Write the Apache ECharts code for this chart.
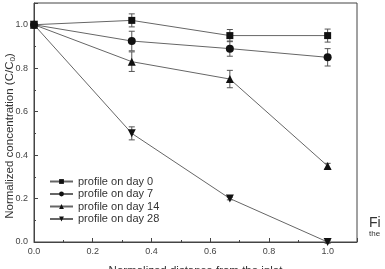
<!DOCTYPE html>
<html>
<head>
<meta charset="utf-8">
<script src="https://cdn.jsdelivr.net/npm/echarts@6/dist/echarts.min.js"></script>
<style>
  html, body { margin: 0; padding: 0; background: #fff; }
  #main { width: 385px; height: 269px; }
</style>
</head>
<body>
<div id="main"></div>
<script>
// positions along the column (normalized distance)
const distances = [0, 0.333, 0.667, 1.0];

// normalized concentration C/C0 for each sampling day
const day0 = [1.0, 1.02, 0.95, 0.95];
const day7 = [1.0, 0.925, 0.89, 0.85];
const day14 = [1.0, 0.83, 0.75, 0.35];
const day28 = [1.0, 0.5, 0.2, 0.0];

// error bar half heights
const err0 = [0, 0.03, 0.028, 0.03];
const err7 = [0, 0.045, 0.035, 0.04];
const err14 = [0, 0.045, 0.04, 0.012];
const err28 = [0, 0.03, 0.006, 0.006];

const seriesNames = ['profile on day 0', 'profile on day 7', 'profile on day 14', 'profile on day 28'];
const symbols = ['rect', 'circle', 'triangle', 'triangle'];
const symbolSizes = [7, 8, 8, 8];
const symbolRotates = [0, 0, 0, 180];

const allValues = [day0, day7, day14, day28];
const allErrors = [err0, err7, err14, err28];

const FONT = 'Liberation Sans';

var myChart = echarts.init(document.getElementById('main'));

const tickFmt = function (v) {
    if (v > 1.05) return '';
    return v.toFixed(1);
};

// error bars drawn with a custom series
function errorSeries(vals, errs) {
    const d = [];
    for (let i = 0; i < vals.length; i++) {
        if (errs[i] > 0) d.push([distances[i], vals[i] - errs[i], vals[i] + errs[i]]);
    }
    return {
        type: 'custom',
        silent: true,
        data: d,
        z: 1,
        renderItem: function (params, api) {
            const lo = api.coord([api.value(0), api.value(1)]);
            const hi = api.coord([api.value(0), api.value(2)]);
            const w = 3;
            const st = { stroke: '#555', lineWidth: 1 };
            return {
                type: 'group',
                children: [
                    { type: 'line', shape: { x1: lo[0], y1: lo[1], x2: hi[0], y2: hi[1] }, style: st },
                    { type: 'line', shape: { x1: lo[0] - w, y1: lo[1], x2: lo[0] + w, y2: lo[1] }, style: st },
                    { type: 'line', shape: { x1: hi[0] - w, y1: hi[1], x2: hi[0] + w, y2: hi[1] }, style: st }
                ]
            };
        }
    };
}

const series = [];
for (let k = 0; k < 4; k++) {
    series.push({
        name: seriesNames[k],
        type: 'line',
        data: distances.map((x, i) => [x, allValues[k][i]]),
        symbol: symbols[k],
        symbolSize: symbolSizes[k],
        symbolRotate: symbolRotates[k],
        showAllSymbol: true,
        clip: false,
        z: 3,
        lineStyle: { color: '#666', width: 1 },
        itemStyle: { color: '#111' }
    });
    series.push(errorSeries(allValues[k], allErrors[k]));
}

var option = {
    animation: false,
    textStyle: { fontFamily: FONT },
    grid: {
        left: 34, right: 28, top: 3, bottom: 27,
        outerBoundsMode: 'none',
        containLabel: false,
        show: true, borderColor: '#444', borderWidth: 1
    },
    legend: {
        data: seriesNames,
        orient: 'vertical',
        left: 44,
        top: 171,
        itemWidth: 23,
        itemHeight: 6,
        itemGap: 1.5,
        textStyle: { fontSize: 11, color: '#333', fontFamily: FONT }
    },
    xAxis: {
        type: 'value',
        min: 0, max: 1.1, interval: 0.2,
        name: 'Normalized distance from the inlet',
        nameLocation: 'middle',
        nameGap: 23,
        nameTextStyle: { fontSize: 11.5, color: '#333' },
        axisLine: { show: true, lineStyle: { color: '#444' } },
        axisTick: { show: true, inside: true, length: 4, lineStyle: { color: '#444' } },
        minorTick: { show: true, splitNumber: 2, length: 2, lineStyle: { color: '#444' } },
        axisLabel: { fontSize: 9, color: '#444', margin: 5, formatter: tickFmt },
        splitLine: { show: false }
    },
    yAxis: {
        type: 'value',
        min: 0, max: 1.1, interval: 0.2,
        axisLine: { show: true, lineStyle: { color: '#444' } },
        axisTick: { show: true, inside: true, length: 4, lineStyle: { color: '#444' } },
        minorTick: { show: true, splitNumber: 2, length: 2, lineStyle: { color: '#444' } },
        axisLabel: { fontSize: 9, color: '#444', margin: 6, formatter: tickFmt },
        splitLine: { show: false }
    },
    graphic: [
        {
            // y axis title, placed by hand because it sits below the plot centre
            type: 'text', x: 10, y: 136, rotation: Math.PI / 2,
            style: {
                text: 'Normalized concentration (C/C{sub|0})',
                fontSize: 11.5, fill: '#333', fontFamily: FONT,
                align: 'center', verticalAlign: 'middle',
                rich: { sub: { fontSize: 8, fill: '#333', fontFamily: FONT, padding: [6, 0, 0, 0] } }
            }
        },
        { type: 'text', left: 369, top: 216, style: { text: 'Fi', fontSize: 14, fill: '#333', fontFamily: FONT } },
        { type: 'text', left: 369, top: 230, style: { text: 'the', fontSize: 8, fill: '#333', fontFamily: FONT } }
    ],
    series: series
};

myChart.setOption(option);
</script>
</body>
</html>
